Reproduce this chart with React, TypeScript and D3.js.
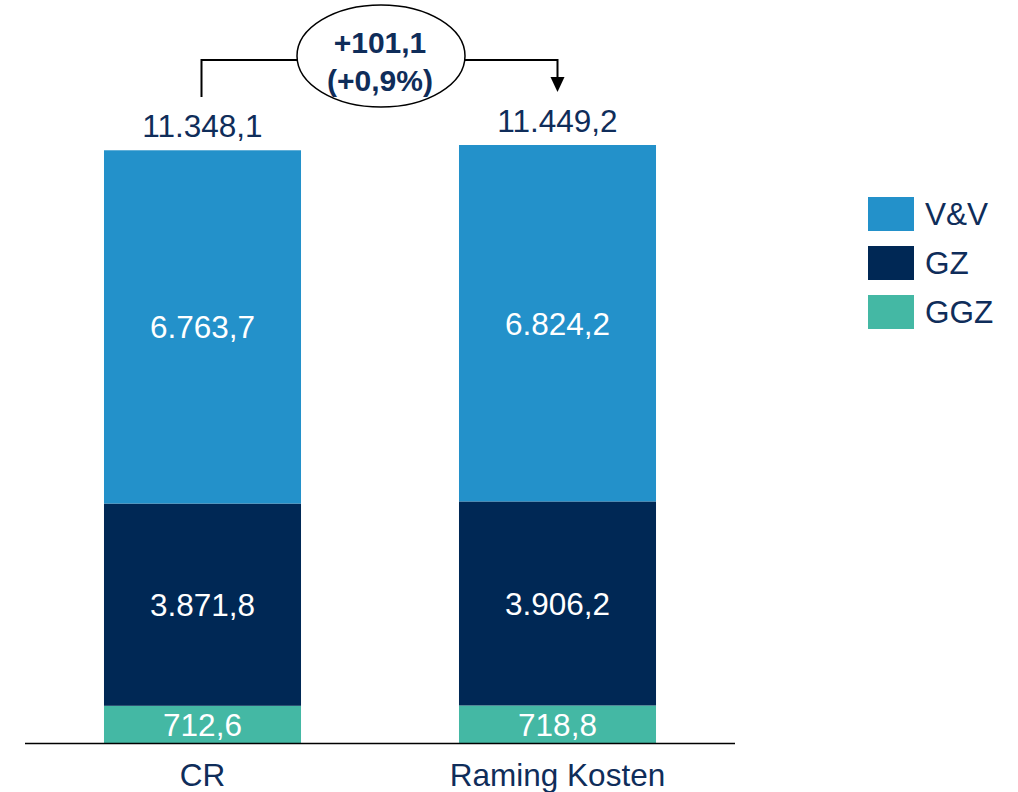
import React from "react";
import * as d3 from "d3";

const categories = ["CR", "Raming Kosten"];
const seriesNames = ["GGZ", "GZ", "V&V"];
const ggzValues = [712.6, 718.8];
const gzValues = [3871.8, 3906.2];
const vvValues = [6763.7, 6824.2];
const totalLabels = ["11.348,1", "11.449,2"];
const ggzLabels = ["712,6", "718,8"];
const gzLabels = ["3.871,8", "3.906,2"];
const vvLabels = ["6.763,7", "6.824,2"];
const legendItems = ["V&V", "GZ", "GGZ"];
const deltaLabel = "+101,1";
const deltaPctLabel = "(+0,9%)";

const colors: Record<string, string> = {
  "V&V": "#2391CA",
  GZ: "#002855",
  GGZ: "#44B8A4",
};
const textColor = "#0F2D5A";
const font = "'Liberation Sans', Arial, sans-serif";
const fs = 31.5;

export default function App() {
  const W = 1018;
  const H = 792;
  const baseY = 743;
  const x = d3
    .scaleBand<string>()
    .domain(categories)
    .range([25, 735])
    .paddingInner(0.445)
    .paddingOuter(0.2225);
  const totals = categories.map((_, i) => ggzValues[i] + gzValues[i] + vvValues[i]);
  const y = d3.scaleLinear().domain([0, d3.max(totals) as number]).range([baseY, 145]);

  const rows = categories.map((c, i) => ({
    c,
    GGZ: ggzValues[i],
    GZ: gzValues[i],
    "V&V": vvValues[i],
  }));
  const stack = d3.stack<any>().keys(seriesNames)(rows);
  const labelsBySeries: Record<string, string[]> = { GGZ: ggzLabels, GZ: gzLabels, "V&V": vvLabels };

  const bw = x.bandwidth();
  const cx0 = (x(categories[0]) as number) + bw / 2;
  const cx1 = (x(categories[1]) as number) + bw / 2;
  const ex = 381;
  const ey = 56;
  const rx = 84;
  const ry = 51;
  const lineY = 60;
  const dy = lineY - ey;
  const dx = rx * Math.sqrt(1 - (dy * dy) / (ry * ry));

  return (
    <svg width={W} height={H} style={{ position: "absolute", left: 0, top: 0 }} fontFamily={font}>
      <rect width={W} height={H} fill="#fff" />
      {stack.map((s) => (
        <g key={s.key}>
          {s.map((d, i) => {
            const top = y(d[1]);
            const bot = y(d[0]);
            return (
              <g key={i}>
                <rect x={x(categories[i])} y={top} width={bw} height={bot - top} fill={colors[s.key]} />
                <text
                  x={(x(categories[i]) as number) + bw / 2}
                  y={(top + bot) / 2}
                  dy="0.36em"
                  textAnchor="middle"
                  fill="#fff"
                  fontSize={fs}
                >
                  {labelsBySeries[s.key][i]}
                </text>
              </g>
            );
          })}
        </g>
      ))}
      <line x1={25} x2={735} y1={baseY + 0.5} y2={baseY + 0.5} stroke="#000" strokeWidth={1.5} />
      {categories.map((c, i) => (
        <g key={c}>
          <text x={(x(c) as number) + bw / 2} y={786} textAnchor="middle" fill={textColor} fontSize={fs}>
            {c}
          </text>
          <text x={(x(c) as number) + bw / 2} y={y(totals[i]) - 13} textAnchor="middle" fill={textColor} fontSize={fs}>
            {totalLabels[i]}
          </text>
        </g>
      ))}
      {/* annotation */}
      <path d={`M${cx0 - 1},97 V${lineY} H${ex - dx}`} fill="none" stroke="#000" strokeWidth={2} />
      <path d={`M${ex + dx},${lineY} H${cx1} V80`} fill="none" stroke="#000" strokeWidth={2} />
      <path d={`M${cx1 - 7},77 L${cx1 + 7},77 L${cx1},92 Z`} fill="#000" />
      <ellipse cx={ex} cy={ey} rx={rx} ry={ry} fill="#fff" stroke="#000" strokeWidth={1.5} />
      <text x={ex - 1} y={53} textAnchor="middle" fill={textColor} fontSize={30} fontWeight="bold">
        {deltaLabel}
      </text>
      <text x={ex - 1} y={91} textAnchor="middle" fill={textColor} fontSize={30} fontWeight="bold">
        {deltaPctLabel}
      </text>
      {/* legend */}
      {legendItems.map((k, i) => (
        <g key={k} transform={`translate(868,${197 + i * 49})`}>
          <rect width={46} height={34} fill={colors[k]} />
          <text x={57} y={17} dy="0.36em" fill={textColor} fontSize={fs}>
            {k}
          </text>
        </g>
      ))}
    </svg>
  );
}
